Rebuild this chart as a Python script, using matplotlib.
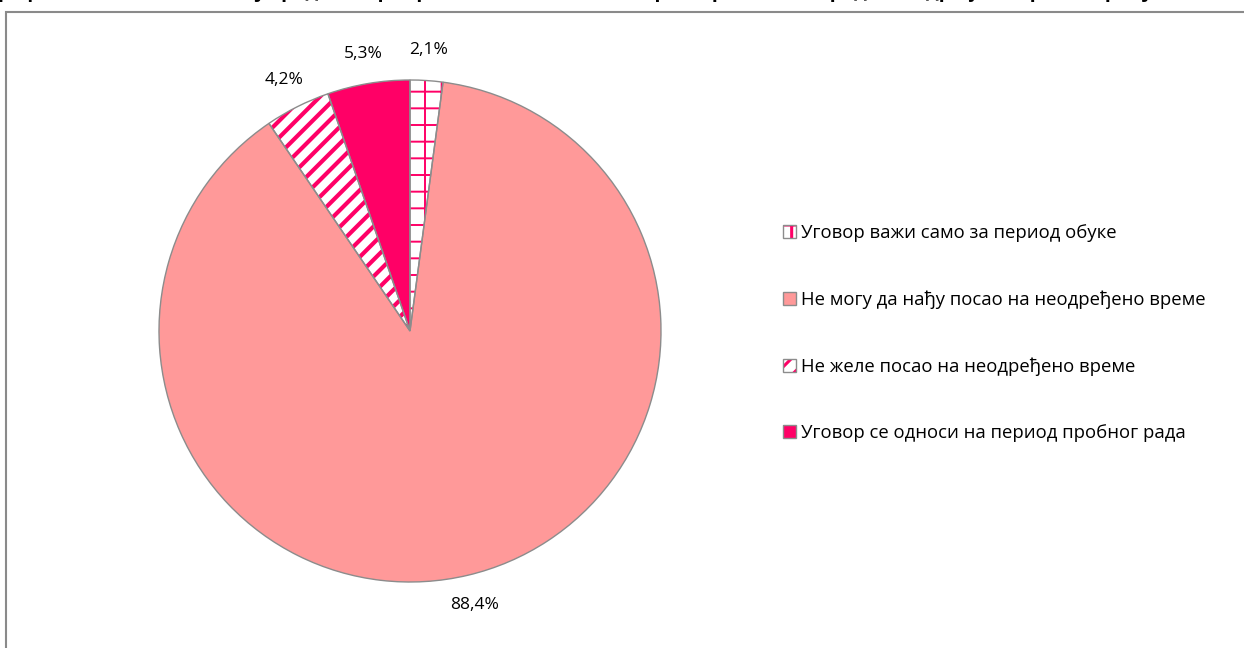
import matplotlib.pyplot as plt
import matplotlib.patches as mpatches
from matplotlib.legend_handler import HandlerTuple

# Podaci
kategorije = [
    "Уговор важи само за период обуке",
    "Не могу да нађу посао на неодређено време",
    "Не желе посао на неодређено време",
    "Уговор се односи на период пробног рада",
]
vrednosti = [2.1, 88.4, 4.2, 5.3]
boje = ["white", "#FF9999", "white", "#FF0066"]
srafure = ["+", None, "//", None]
debljine = [1.4, 1.0, 3.0, 1.0]
naslov = ("Графикон 6. Запослени који раде на привременим пословима, према разлозима "
          "рада на одређено време, Србија, 2015. (%)")

plt.rcParams["font.family"] = ["Open Sans", "DejaVu Sans"]
plt.rcParams["hatch.linewidth"] = 2.2

W, H = 1244, 648
fig = plt.figure(figsize=(W / 100, H / 100), dpi=100)

# okvir grafikona
fig.add_artist(mpatches.Rectangle((6 / W, -0.05), 1.1, 1.05 - 12 / H,
                                  transform=fig.transFigure, fill=False,
                                  edgecolor="#8A8A8A", linewidth=1.5))

# naslov (odsecen na vrhu, kao u originalu)
fig.text(0.5, 1 + 3 / H, naslov, ha="center", va="baseline",
         fontsize=14, fontweight="bold")

cx, cy, r = 410, 331, 251
ax = fig.add_axes([(cx - r) / W, (H - cy - r) / H, 2 * r / W, 2 * r / H])

# prvi prolaz: boje i srafure
wedges, _ = ax.pie(vrednosti, colors=boje, startangle=90, counterclock=False,
                   wedgeprops=dict(linewidth=0, edgecolor="#FF0066"))
for w, h, d in zip(wedges, srafure, debljine):
    if h:
        w.set_hatch(h)
        if hasattr(w, "set_hatch_linewidth"):
            w.set_hatch_linewidth(d)

# drugi prolaz: sive ivice i oznake
etikete = [f"{v:.1f}%".replace(".", ",") for v in vrednosti]
ivice, tekstovi = ax.pie(vrednosti, startangle=90, counterclock=False,
                         labels=etikete, labeldistance=1.12,
                         wedgeprops=dict(fill=False, linewidth=1.0, edgecolor="#8C8C8C"),
                         textprops=dict(fontsize=12.5))
for t in tekstovi:
    t.set_ha("center")
    t.set_va("center")
ax.set_xlim(-1, 1)
ax.set_ylim(-1, 1)

# legenda
rucke = []
for b, h in zip(boje, srafure):
    p1 = mpatches.Patch(facecolor=b, hatch=h, edgecolor="#FF0066", linewidth=0)
    p2 = mpatches.Patch(fill=False, edgecolor="#8C8C8C", linewidth=1.0)
    rucke.append((p1, p2))
fig.legend(rucke, kategorije, handler_map={tuple: HandlerTuple(ndivide=1)},
           loc="upper left", bbox_to_anchor=(774 / W, 1 - 215 / H),
           frameon=False, fontsize=13.3, handlelength=0.7, handleheight=0.7,
           handletextpad=0.25, labelspacing=2.62, borderpad=0)

fig.savefig("out.png", dpi=100)
